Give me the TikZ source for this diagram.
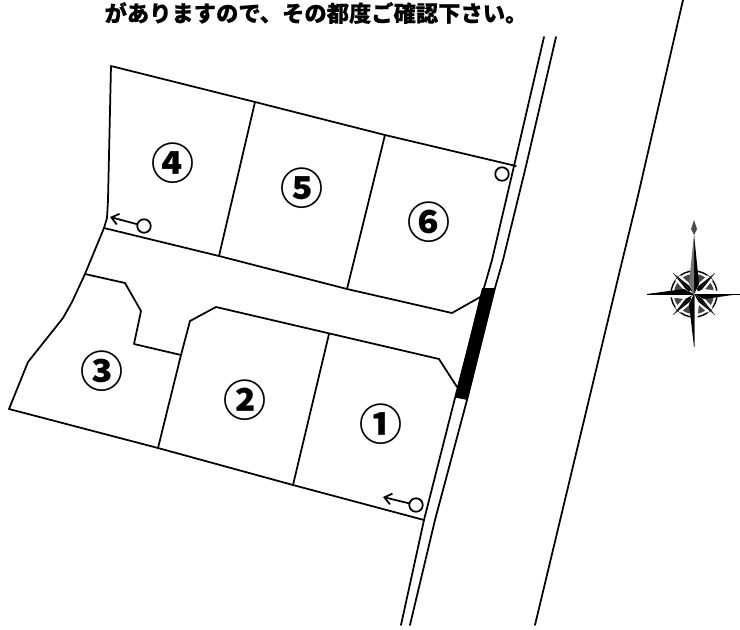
\documentclass[tikz,border=0pt]{standalone}
\usepackage{fontspec}
\newfontfamily\cjk[BoldFeatures={FakeBold=0.4}]{Noto Sans CJK JP}
\newfontfamily\cjknum{Noto Sans CJK JP}
\usetikzlibrary{arrows.meta}
\tikzset{
  plan/.style={line width=1.75pt,black,line join=round,line cap=round},
  markpt/.style={circle,draw=black,line width=1.75pt,fill=white,inner sep=0pt,minimum size=13.5pt},
  lotno/.style={font=\cjknum\bfseries\fontsize{43}{43}\selectfont,inner sep=0pt},
  lead/.style={plan,-{Straight Barb[length=7pt,width=11pt]}},
  title/.style={font=\cjk\bfseries\fontsize{22.3}{24}\selectfont,inner sep=0pt}
}
\begin{document}
\begin{tikzpicture}[x=1pt,y=-1pt]
\useasboundingbox (0,0) rectangle (740,630);
\node[title] (t) at (316,13) {がありますので、その都度ご確認下さい。};
% roads
\draw[plan] (544,37) -- (514,166) -- (492,260) -- (484,288) -- (455,398) -- (424,520) -- (401,625);
\draw[plan] (556,37) -- (526,166) -- (503,260) -- (495,288) -- (467,400) -- (435,520) -- (410,625);
\draw[plan] (683,0) -- (637,200) -- (620,270) -- (535,625);
\fill[black] (482,288) -- (494.5,288) -- (467.5,400) -- (455,397.5) -- cycle;
% outer boundary
\draw[plan] (516,166) -- (385,135) -- (255,102) -- (111,66) -- (108,200) -- (107,218) -- (104,228) -- (85,274) -- (72,302) -- (63,318) -- (28,362) -- (9,409) -- (158,448) -- (293,485) -- (424,520);
% dividers and road edges
\draw[plan] (255,102) -- (219,256);
\draw[plan] (385,135) -- (347,289);
\draw[plan] (104,228) -- (219,256) -- (347,289) -- (452,313) -- (482,296);
\draw[plan] (85,274) -- (125,283) -- (141,311) -- (134,344) -- (181,355);
\draw[plan] (158,448) -- (181,355) -- (190,321) -- (216,307) -- (439,359) -- (457,387);
\draw[plan] (329,334) -- (293,485);
% markers
\node[markpt] (m4) at (144,226) {};
\node[markpt] (m1) at (416,505) {};
\node[markpt] (m6) at (502,174) {};
\coordinate (a4) at (110,217);
\coordinate (a1) at (383,497);
\draw[lead] (m4) -- (a4);
\draw[lead] (m1) -- (a1);
% lot numbers
\node[lotno] (n4) at (173,163.5) {④};
\node[lotno] (n5) at (302,188.5) {⑤};
\node[lotno] (n6) at (429,222.5) {⑥};
\node[lotno] (n3) at (102,371) {③};
\node[lotno] (n2) at (245,400.5) {②};
\node[lotno] (n1) at (381,424) {①};
% compass
\begin{scope}[shift={(694,294)}]
  \draw[black,line width=1.4pt] (0,0) circle (23);
  \draw[black!72,line width=9pt] (0,0) circle (15.5);
  \foreach \a in {45,135,225,315}{
    \begin{scope}[rotate=\a]
      \fill[white] (0,-5) -- (23,-3.5) -- (23,3.5) -- (0,5) -- cycle;
      \fill[black] (0,0) -- (30,0) -- (9,2.4) -- cycle;
      \fill[black] (0,0) -- (30,0) -- (9,-2.4) -- cycle;
    \end{scope}
  }
  \fill[black] (0,0) -- (0,-60) -- (5,-10) -- cycle;
  \fill[black!55] (0,0) -- (0,-60) -- (-5,-10) -- cycle;
  \fill[black!70] (0,-74) -- (3,-65) -- (0,-59) -- (-3,-65) -- cycle;
  \fill[black] (0,0) -- (46,0) -- (10,5) -- cycle;
  \fill[white] (0,0) -- (46,0) -- (10,-5) -- cycle;
  \fill[black] (0,0) -- (-47,0) -- (-10,-5) -- cycle;
  \fill[white] (0,0) -- (-47,0) -- (-10,5) -- cycle;
  \fill[black] (0,0) -- (0,53) -- (-5,10) -- cycle;
  \fill[white] (0,0) -- (0,53) -- (5,10) -- cycle;
  \draw[black,line width=.7pt] (0,0) -- (46,0) (0,0) -- (-47,0);
  \draw[black!60,line width=.7pt] (0,0) -- (0,53);
\end{scope}
\end{tikzpicture}
\end{document}
